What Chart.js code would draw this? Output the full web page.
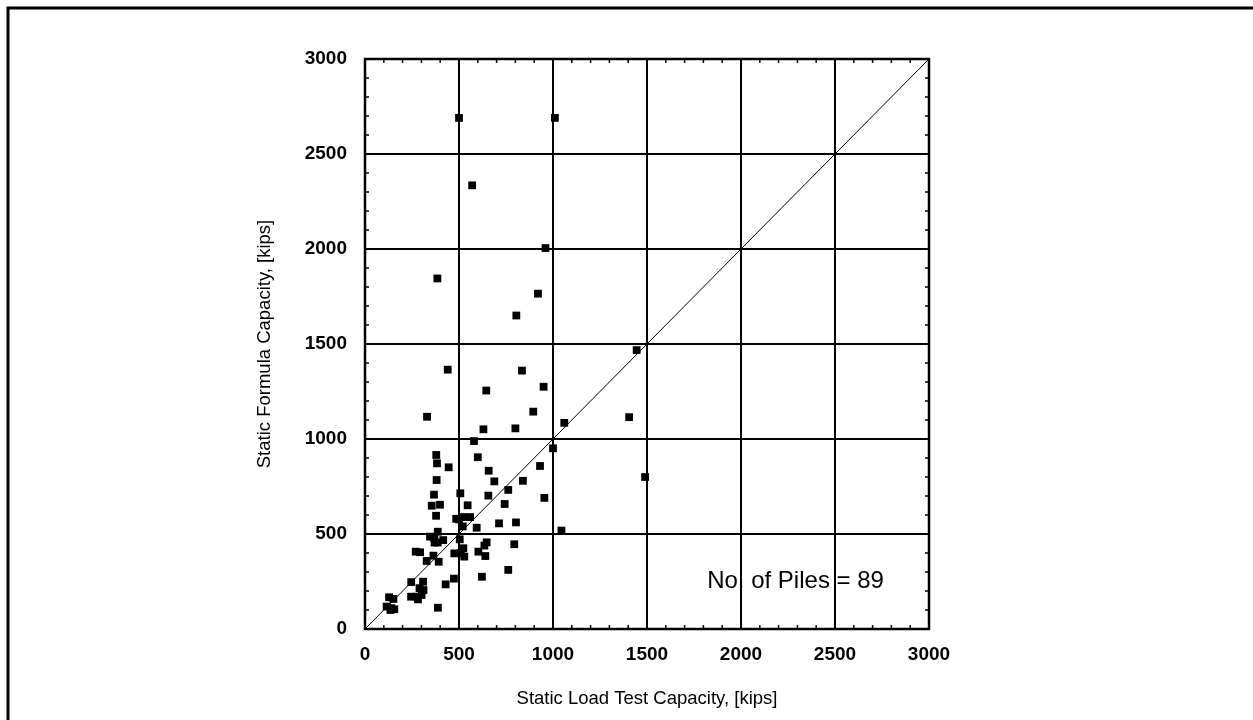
<!DOCTYPE html>
<html>
<head>
<meta charset="utf-8">
<script src="https://cdn.jsdelivr.net/npm/chart.js@4/dist/chart.umd.min.js"></script>
<style>
  html, body { margin: 0; padding: 0; background: #fff; }
  #c { display: block; }
</style>
</head>
<body>
<canvas id="c" width="1253" height="720"></canvas>
<script>
// Static Load Test Capacity [kips] (x) vs Static Formula Capacity [kips] (y)
const testCapacity = [
  500, 1010, 570, 960, 385, 920, 805, 1445, 440, 835,
  950, 645, 330, 895, 630, 800, 1000, 580, 379, 383,
  445, 600, 658, 381, 688, 840, 931, 762, 367, 507,
  656, 954, 355, 399, 546, 743, 378, 500, 523, 559,
  594, 713, 803, 346, 387, 369, 387, 416, 504, 647,
  794, 635, 523, 603, 270, 293, 364, 475, 528, 640,
  328, 392, 762, 622, 246, 309, 473, 429, 311, 245,
  282, 301, 128, 151, 115, 156, 140, 388, 1060, 1405,
  1490, 1045, 510, 275, 135, 520, 370, 290, 485
];
const formulaCapacity = [
  2690, 2690, 2335, 2005, 1845, 1765, 1650, 1468, 1365, 1360,
  1275, 1255, 1117, 1144, 1051, 1056, 951, 989, 916, 872,
  851, 904, 833, 784, 777, 780, 858, 732, 707, 714,
  702, 690, 649, 654, 651, 658, 596, 577, 589, 589,
  533, 556, 561, 486, 512, 477, 455, 468, 472, 456,
  446, 439, 425, 407, 407, 404, 386, 398, 381, 384,
  358, 354, 311, 275, 247, 249, 265, 235, 205, 170,
  156, 179, 167, 158, 118, 104, 110, 112, 1085, 1115,
  800, 518, 400, 170, 100, 540, 455, 215, 580
];
const diagX = [0, 3000];
const diagY = [0, 3000];
const axisMin = 0, axisMax = 3000, majorStep = 500, minorStep = 100;
const xTitle = 'Static Load Test Capacity, [kips]';
const yTitle = 'Static Formula Capacity, [kips]';
const noteText = 'No. of Piles = 89';

const points = testCapacity.map((x, i) => ({ x: x, y: formulaCapacity[i] }));
const diag = diagX.map((x, i) => ({ x: x, y: diagY[i] }));

const FONT = 'Liberation Sans, Arial, Helvetica, sans-serif';

const decorPlugin = {
  id: 'decor',
  beforeDraw(chart) {
    const ctx = chart.ctx;
    ctx.save();
    ctx.fillStyle = '#fff';
    ctx.fillRect(0, 0, chart.width, chart.height);
    ctx.restore();
  },
  afterDraw(chart) {
    const ctx = chart.ctx;
    const xs = chart.scales.x, ys = chart.scales.y;
    const a = chart.chartArea;
    ctx.save();
    ctx.strokeStyle = '#000';
    // minor ticks pointing inward on all four sides
    ctx.lineWidth = 1.5;
    const tl = 4;
    for (let v = axisMin + minorStep; v < axisMax; v += minorStep) {
      if (v % majorStep === 0) continue;
      const px = xs.getPixelForValue(v);
      const py = ys.getPixelForValue(v);
      ctx.beginPath();
      ctx.moveTo(px, a.bottom); ctx.lineTo(px, a.bottom - tl);
      ctx.moveTo(px, a.top); ctx.lineTo(px, a.top + tl);
      ctx.moveTo(a.left, py); ctx.lineTo(a.left + tl, py);
      ctx.moveTo(a.right, py); ctx.lineTo(a.right - tl, py);
      ctx.stroke();
    }
    // frame
    ctx.lineWidth = 2.5;
    ctx.strokeRect(a.left, a.top, a.right - a.left, a.bottom - a.top);
    // annotation
    ctx.fillStyle = '#000';
    ctx.font = '24px ' + FONT;
    ctx.textAlign = 'left';
    ctx.textBaseline = 'middle';
    ctx.fillText(noteText, xs.getPixelForValue(1820), ys.getPixelForValue(250));
    // outer page border (top and left visible)
    ctx.lineWidth = 3;
    ctx.beginPath();
    ctx.moveTo(8, 720); ctx.lineTo(8, 8); ctx.lineTo(1253, 8);
    ctx.stroke();
    ctx.restore();
  }
};

const plainTick = (v) => String(v);

new Chart(document.getElementById('c'), {
  type: 'scatter',
  data: {
    datasets: [
      {
        label: 'Piles',
        data: points,
        pointStyle: 'rect',
        pointRadius: 5.5,
        pointBackgroundColor: '#000',
        pointBorderColor: '#000',
        pointBorderWidth: 0,
        order: 1
      },
      {
        label: '1:1',
        type: 'line',
        data: diag,
        showLine: true,
        borderColor: '#000',
        borderWidth: 1,
        pointRadius: 0,
        fill: false,
        order: 2
      }
    ]
  },
  options: {
    responsive: false,
    devicePixelRatio: 1,
    animation: false,
    events: [],
    layout: { padding: { left: 0, right: 324, top: 59, bottom: 0 } },
    plugins: { legend: { display: false }, tooltip: { enabled: false } },
    scales: {
      x: {
        type: 'linear',
        min: axisMin, max: axisMax,
        afterFit(scale) { scale.height = 91; },
        ticks: { stepSize: majorStep, color: '#000', padding: 14, callback: plainTick,
                 font: { family: FONT, size: 19, weight: 'bold' }, maxRotation: 0 },
        grid: { color: '#000', lineWidth: 2, drawTicks: false },
        border: { display: false },
        title: { display: true, text: xTitle, color: '#000',
                 font: { family: FONT, size: 18.5 }, padding: { top: 0, bottom: 10 } }
      },
      y: {
        type: 'linear',
        min: axisMin, max: axisMax,
        afterFit(scale) { scale.width = 365; },
        ticks: { stepSize: majorStep, color: '#000', padding: 18, callback: plainTick,
                 font: { family: FONT, size: 19, weight: 'bold' } },
        grid: { color: '#000', lineWidth: 2, drawTicks: false },
        border: { display: false },
        title: { display: true, text: yTitle, color: '#000',
                 font: { family: FONT, size: 18.5 }, padding: { top: 254, bottom: 0 } }
      }
    }
  },
  plugins: [decorPlugin]
});
</script>
</body>
</html>
